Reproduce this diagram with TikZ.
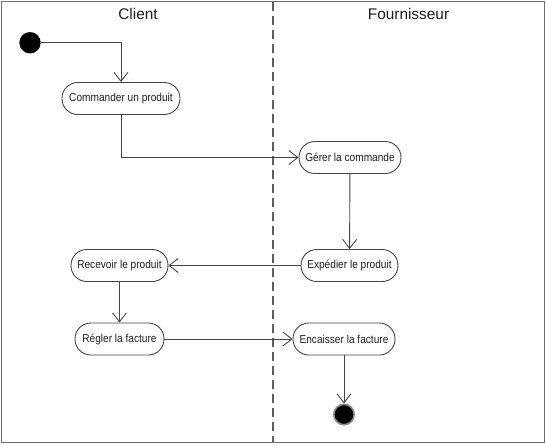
\documentclass[tikz,border=0pt]{standalone}
\usepackage{fontspec}
\setmainfont{Liberation Sans}
\newfontfamily\nodefont[FakeStretch=0.88]{Liberation Sans}
\usetikzlibrary{arrows.meta}
\definecolor{linec}{RGB}{70,70,70}
\definecolor{txtc}{RGB}{30,30,30}
\definecolor{framec}{RGB}{110,110,110}
\definecolor{dashc}{RGB}{95,95,95}
\definecolor{ringc}{RGB}{140,140,140}
\begin{document}
\begin{tikzpicture}[x=1pt,y=-1pt,
  act/.style={draw=linec, line width=0.9pt, rounded corners=15.8pt, minimum height=32pt,
    inner sep=0pt, font=\nodefont\fontsize{11.5}{13}\selectfont, text=txtc, fill=white},
  flow/.style={draw=linec, line width=0.9pt,
    -{Straight Barb[length=9pt,width=14pt,line width=0.9pt]}},
  lane/.style={font=\fontsize{15.4}{18}\selectfont, text=txtc, anchor=base, inner sep=0pt}
]
\useasboundingbox (0,0) rectangle (546,445);
\fill[white] (0,0) rectangle (546,445);
\draw[framec, line width=1.8pt] (1.5,1.5) rectangle (544.5,442.5);
\coordinate (laneTop) at (273,2);
\coordinate (laneBot) at (273,442);
\draw[dashc, line width=1.5pt, dash pattern=on 9pt off 5pt] (laneTop) -- (laneBot);

\node[lane] (client) at (138,19) {Client};
\node[lane] (fourn) at (408.5,19) {Fournisseur};

\node[circle, fill=black, minimum size=21.4pt, inner sep=0pt] (start) at (30,42.7) {};
\node[act, minimum width=118pt] (cmd) at (121,98.5) {Commander un produit};
\node[act, minimum width=102pt] (gerer) at (350,157.5) {Gérer la commande};
\node[act, minimum width=97pt] (exped) at (349.5,265.5) {Expédier le produit};
\node[act, minimum width=97pt] (recv) at (119.5,265.5) {Recevoir le produit};
\node[act, minimum width=89pt] (regler) at (119.5,339) {Régler la facture};
\node[act, minimum width=102pt] (encaisser) at (344,339) {Encaisser la facture};
\node[circle, fill=black, draw=ringc, line width=1.6pt, minimum size=20.4pt, inner sep=0pt] (end) at (344,414.5) {};

\draw[flow] (start) -| (cmd);
\draw[flow] (cmd) |- (gerer);
\draw[flow] (gerer) -- (exped);
\draw[flow] (exped) -- (recv);
\draw[flow] (recv) -- (regler);
\draw[flow] (regler) -- (encaisser);
\draw[flow] (encaisser) -- (end);
\end{tikzpicture}
\end{document}
